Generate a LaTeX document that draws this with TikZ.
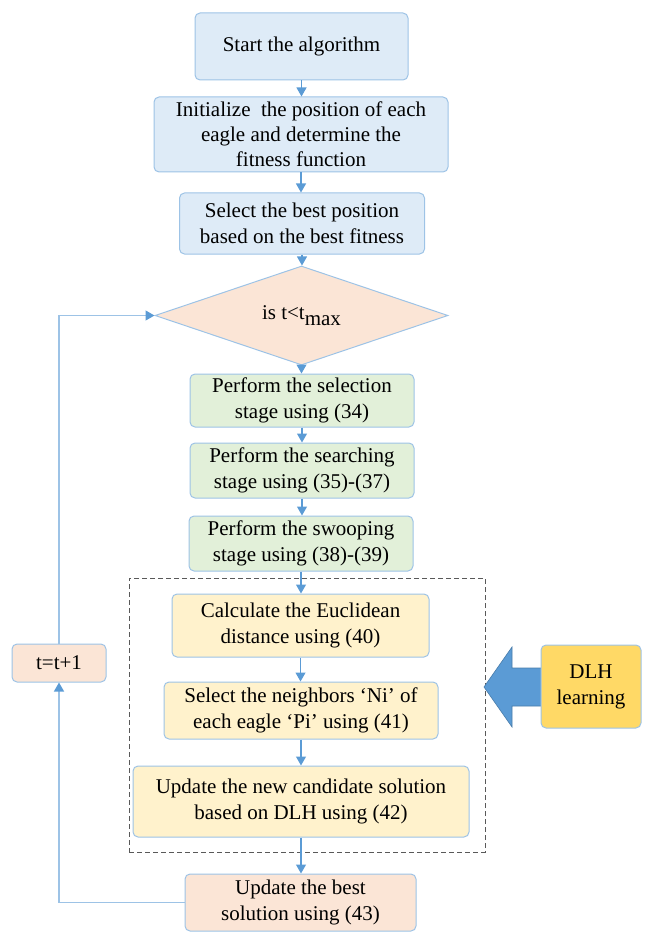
\documentclass[tikz,border=0pt]{standalone}
\usepackage{fontspec}
\setmainfont{Liberation Serif}
\usetikzlibrary{arrows.meta,shapes.geometric}
\definecolor{bd}{HTML}{9DC3E6}
\definecolor{ar}{HTML}{5B9BD5}
\definecolor{fblue}{HTML}{DEEBF7}
\definecolor{fpeach}{HTML}{FBE5D6}
\definecolor{fgreen}{HTML}{E2F0D9}
\definecolor{fyellow}{HTML}{FFF2CC}
\definecolor{fgold}{HTML}{FFD966}
\definecolor{dsh}{HTML}{595959}
\tikzset{
  boxs/.style={draw=bd, line width=1pt, rounded corners=5pt, inner sep=0pt, align=center,
    font=\fontsize{21}{26}\selectfont, text=black},
  conn/.style={draw=ar, line width=1.1pt, -{Triangle[length=9pt,width=10pt]}},
  loopc/.style={draw=bd, line width=1.3pt, -{Triangle[length=9pt,width=10pt,color=ar]}},
}
\begin{document}
\begin{tikzpicture}[x=1pt,y=-1pt]
\useasboundingbox (0,0) rectangle (651,941);
\node[boxs, fill=fblue, minimum width=213pt, minimum height=67pt] (b1) at (301.5,46.5) {Start the algorithm};
\node[boxs, fill=fblue, minimum width=294pt, minimum height=75pt, font=\fontsize{21}{25}\selectfont] (b2) at (301,134.5) {Initialize\ \ the position of each\\eagle and determine the\\fitness function};
\node[boxs, fill=fblue, minimum width=245pt, minimum height=61pt] (b3) at (302,223.5) {Select the best position\\based on the best fitness};
\node[diamond, draw=bd, line width=1pt, fill=fpeach, inner sep=0pt, minimum width=293pt, minimum height=85pt, font=\fontsize{21}{26}\selectfont] (dia) at (301.5,315.5) {is t<t\raisebox{-6pt}{max}};
\node[boxs, fill=fgreen, minimum width=224pt, minimum height=53pt] (g1) at (302,400.5) {Perform the selection\\stage using (34)};
\node[boxs, fill=fgreen, minimum width=224pt, minimum height=55pt] (g2) at (302,470.5) {Perform the searching\\stage using (35)-(37)};
\node[boxs, fill=fgreen, minimum width=224pt, minimum height=55pt] (g3) at (301,543.5) {Perform the swooping\\stage using (38)-(39)};
\node[draw=dsh, dashed, dash pattern=on 5pt off 3pt, line width=1pt, inner sep=0pt, minimum width=356pt, minimum height=274pt] (grp) at (307,715) {};
\node[boxs, fill=fyellow, minimum width=257pt, minimum height=63pt] (y1) at (300.5,625.5) {Calculate the Euclidean\\distance using (40)};
\node[boxs, fill=fyellow, minimum width=274pt, minimum height=57pt] (y2) at (301,710.5) {Select the neighbors `Ni' of\\each eagle `Pi' using (41)};
\node[boxs, fill=fyellow, minimum width=336pt, minimum height=71pt] (y3) at (301,801.5) {Update the new candidate solution\\based on DLH using (42)};
\node[boxs, fill=fpeach, minimum width=231pt, minimum height=57pt] (fin) at (300.5,902.5) {Update the best\\solution using (43)};
\node[boxs, fill=fpeach, minimum width=94pt, minimum height=38pt] (tb) at (59,663) {t=t+1};
\coordinate (tip) at (484,687);
\draw[draw=ar!80!black, line width=0.6pt, fill=ar]
  (tip) -- ++(28,-40) -- ++(0,21) -- ++(30,0) -- ++(0,38) -- ++(-30,0) -- ++(0,21) -- cycle;
\node[boxs, fill=fgold, minimum width=100pt, minimum height=83pt] (dlh) at (591,686.5) {DLH\\learning};
\draw[conn] (b1.south) -- (b1.south |- b2.north);
\draw[conn] (b2.south) -- (b2.south |- b3.north);
\draw[conn] (b3.south) -- (b3.south |- dia.north);
\draw[conn] (dia.south) -- (dia.south |- g1.north);
\draw[conn] (g1.south) -- (g1.south |- g2.north);
\draw[conn] (g2.south) -- (g2.south |- g3.north);
\draw[conn] (g3.south) -- (g3.south |- y1.north);
\draw[conn] (y1.south) -- (y1.south |- y2.north);
\draw[conn] (y2.south) -- (y2.south |- y3.north);
\draw[conn] (y3.south) -- (y3.south |- fin.north);
\draw[loopc] (fin.west) -| (tb.south);
\draw[loopc] (tb.north) |- (dia.west);
\end{tikzpicture}
\end{document}
